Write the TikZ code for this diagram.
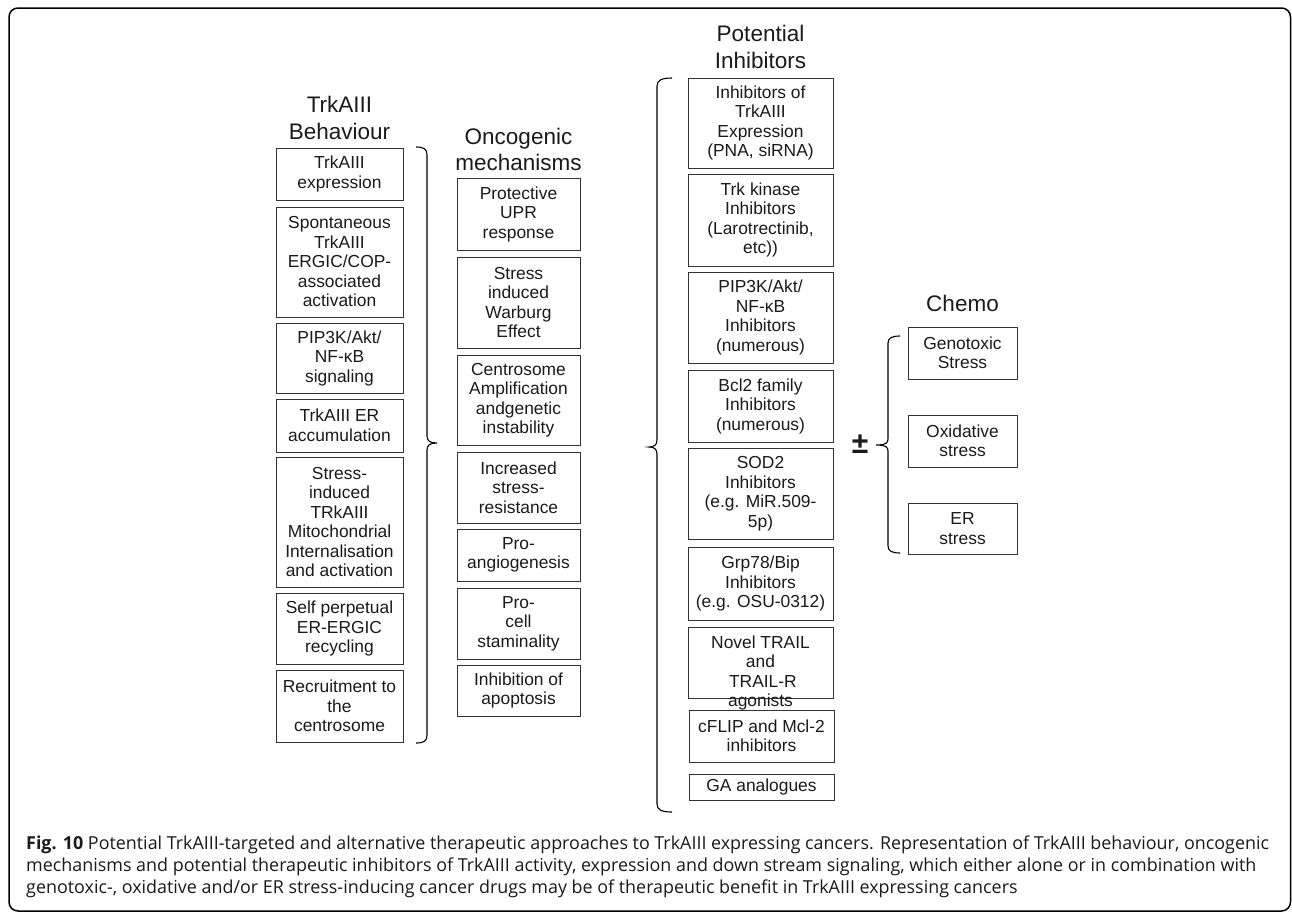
\documentclass[tikz,border=0pt]{standalone}
\usepackage{fontspec}
\setmainfont{Liberation Sans}
\newfontfamily\capfont{Open Sans}
\definecolor{boxc}{HTML}{333333}
\definecolor{txtc}{HTML}{1A1A1A}
\tikzset{
  bx/.style={draw=boxc, line width=1pt, inner sep=0pt, align=center, text=txtc,
    font=\fontsize{17.4}{19.5}\selectfont},
  ttl/.style={inner sep=0pt, align=center, text=txtc, font=\fontsize{22.5}{26.5}\selectfont},
  brace/.style={draw=black, line width=1.1pt},
}
\newcommand\pbox[6]{\node[bx, minimum width={(#4-#2)*1pt}, minimum height={(#5-#3)*1pt}] (#1) at ({(#2+#4)/2},{(#3+#5)/2}) {#6};}
\begin{document}
\begin{tikzpicture}[x=1pt,y=-1pt]
\useasboundingbox (0,0) rectangle (1292,913);
\draw[line width=1.5pt, rounded corners=9pt] (9,8) rectangle (1290.5,911);

% titles
\node[ttl] (t1) at (339.5,118) {TrkAIII\\Behaviour};
\node[ttl] (t2) at (518.5,149.5) {Oncogenic\\mechanisms};
\node[ttl] (t3) at (760.5,47) {Potential\\Inhibitors};
\node[ttl] (t4) at (962.5,303) {Chemo};

% left column
\pbox{l1}{276}{148}{403}{200}{TrkAIII\\expression}
\pbox{l2}{276}{207}{403}{317}{Spontaneous\\TrkAIII\\ERGIC/COP-\\associated\\activation}
\pbox{l3}{276}{323}{403}{393}{PIP3K/Akt/\\NF-κB\\signaling}
\pbox{l4}{276}{399}{403}{452}{TrkAIII ER\\accumulation}
\pbox{l5}{276}{457}{403}{587}{Stress-\\induced\\TRkAIII\\Mitochondrial\\Internalisation\\and activation}
\pbox{l6}{276}{593}{403}{664}{Self perpetual\\ER-ERGIC\\recycling}
\pbox{l7}{276}{670}{403}{742}{Recruitment to\\the\\centrosome}

% middle column
\pbox{m1}{457}{178}{580}{250}{Protective\\UPR\\response}
\pbox{m2}{457}{257}{580}{348}{Stress\\induced\\Warburg\\Effect}
\pbox{m3}{457}{355}{580}{445}{Centrosome\\Amplification\\andgenetic\\instability}
\pbox{m4}{457}{452}{580}{523}{Increased\\stress-\\resistance}
\pbox{m5}{457}{529}{580}{581}{Pro-\\angiogenesis}
\pbox{m6}{457}{588}{580}{659}{Pro-\\cell\\staminality}
\pbox{m7}{457}{665}{580}{716}{Inhibition of\\apoptosis}

% right column
\pbox{p1}{688}{78}{833}{168}{Inhibitors of\\TrkAIII\\Expression\\(PNA, siRNA)}
\pbox{p2}{688}{174}{833}{266}{Trk kinase\\Inhibitors\\(Larotrectinib,\\etc))}
\pbox{p3}{688}{272}{833}{363}{PIP3K/Akt/\\NF-κB\\Inhibitors\\(numerous)}
\pbox{p4}{688}{370}{833}{442}{Bcl2 family\\Inhibitors\\(numerous)}
\pbox{p5}{688}{448}{833}{539}{SOD2\\Inhibitors\\(e.g. MiR.509-\\5p)}
\pbox{p6}{688}{547}{833}{620}{Grp78/Bip\\Inhibitors\\(e.g. OSU-0312)}
\pbox{p7}{688}{627}{833}{698}{}
\node[bx, draw=none] (p7t) at (760.5,673) {Novel TRAIL\\and\\\ TRAIL-R\\agonists};
\pbox{p8}{689}{710}{834}{762}{cFLIP and Mcl-2\\inhibitors}
\pbox{p9}{689}{774}{834}{800}{GA analogues}

% chemo column
\pbox{c1}{908}{327}{1017}{379}{Genotoxic\\Stress}
\pbox{c2}{908}{415}{1017}{467}{Oxidative\\stress}
\pbox{c3}{908}{503}{1017}{554}{ER\\stress}

% braces
\draw[brace] (416,147) .. controls (424,147) and (427,149) .. (427,155) -- (427,436)
  .. controls (427,441) and (430,443) .. (437,443)
  .. controls (430,443) and (427,445) .. (427,450) -- (427,735)
  .. controls (427,741) and (424,743) .. (416,743);
\draw[brace] (672,78) .. controls (662,78) and (657,80) .. (657,86) -- (657,440)
  .. controls (657,445) and (654,447) .. (649,447)
  .. controls (654,447) and (657,449) .. (657,454) -- (657,804)
  .. controls (657,810) and (662,812) .. (672,812);
\draw[brace] (900,336) .. controls (892,336) and (888,338) .. (888,343) -- (888,439)
  .. controls (888,443) and (886,445) .. (876,445)
  .. controls (886,445) and (888,447) .. (888,451) -- (888,546)
  .. controls (888,551) and (892,553) .. (900,553);
\node[inner sep=0pt, text=txtc, font=\bfseries\fontsize{30}{30}\selectfont] (pm) at (860,444) {±};

% caption
\node[anchor=north west, align=left, inner sep=0pt, text=txtc,
  font=\capfont\fontsize{17.9}{22}\selectfont] (cap) at (26,836)
{\textbf{Fig. 10} Potential TrkAIII-targeted and alternative therapeutic approaches to TrkAIII expressing cancers. Representation of TrkAIII behaviour, oncogenic\\
mechanisms and potential therapeutic inhibitors of TrkAIII activity, expression and down stream signaling, which either alone or in combination with\\
genotoxic-, oxidative and/or ER stress-inducing cancer drugs may be of therapeutic benefit in TrkAIII expressing cancers};
\end{tikzpicture}
\end{document}
